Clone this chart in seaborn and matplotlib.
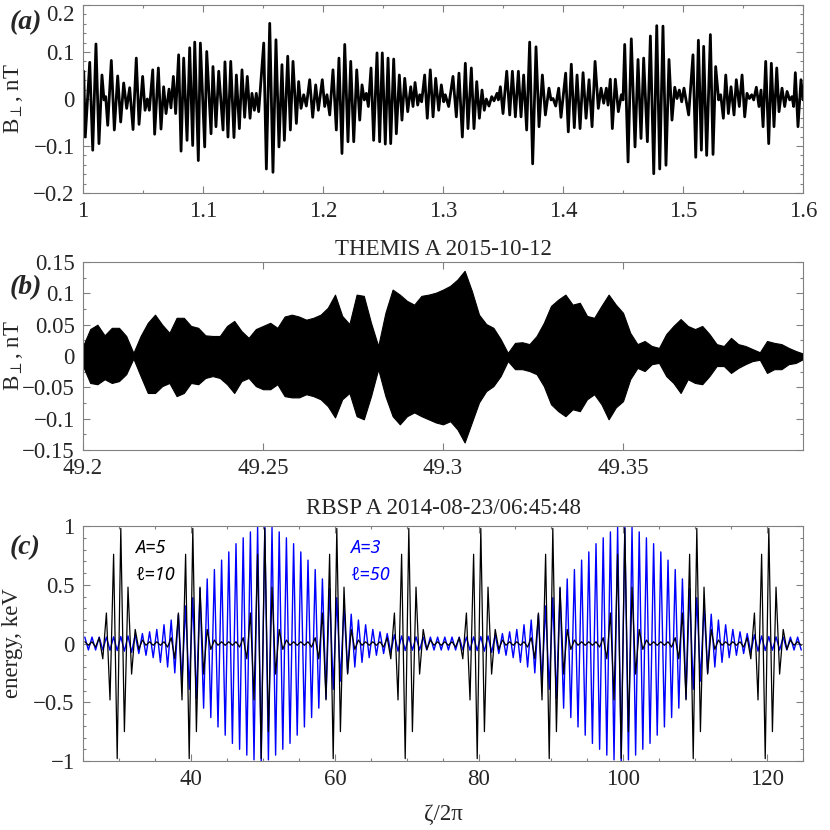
import numpy as np
import matplotlib
matplotlib.use('Agg')
import matplotlib.pyplot as plt
import seaborn as sns
from matplotlib.ticker import MultipleLocator

# ------------------------------ DATA -----------------------------------

# panel (a): local maxima / minima of the THEMIS trace (time, nT)
a_time = [
    1.0006, 1.0019, 1.0056, 1.0081, 1.0108, 1.0133, 1.0158, 1.0175, 1.0189, 1.0206,
    1.0236, 1.0261, 1.0289, 1.0314, 1.0339, 1.0364, 1.0389, 1.0417, 1.0444, 1.0467,
    1.0497, 1.0517, 1.0536, 1.0553, 1.0581, 1.0597, 1.0628, 1.0650, 1.0672, 1.0692,
    1.0717, 1.0733, 1.0753, 1.0772, 1.0797, 1.0817, 1.0839, 1.0867, 1.0889, 1.0914,
    1.0931, 1.0961, 1.0978, 1.1014, 1.1031, 1.1067, 1.1083, 1.1108, 1.1131, 1.1167,
    1.1183, 1.1208, 1.1231, 1.1258, 1.1278, 1.1303, 1.1325, 1.1347, 1.1369, 1.1392,
    1.1408, 1.1428, 1.1444, 1.1464, 1.1506, 1.1528, 1.1556, 1.1583, 1.1608, 1.1633,
    1.1658, 1.1678, 1.1706, 1.1728, 1.1750, 1.1778, 1.1797,
    1.1817, 1.1839, 1.1861, 1.1889, 1.1914, 1.1939, 1.1961, 1.1994, 1.2014, 1.2033,
    1.2056, 1.2083, 1.2111, 1.2133, 1.2158, 1.2181, 1.2208, 1.2231, 1.2256, 1.2281,
    1.2306, 1.2325, 1.2344, 1.2361, 1.2378, 1.2400, 1.2422, 1.2450, 1.2472, 1.2494,
    1.2519, 1.2542, 1.2564, 1.2589, 1.2611, 1.2636, 1.2658, 1.2681, 1.2706, 1.2731,
    1.2750, 1.2767, 1.2789, 1.2806, 1.2822, 1.2847, 1.2869, 1.2894, 1.2917, 1.2939,
    1.2964, 1.2986, 1.3006, 1.3019, 1.3047, 1.3083, 1.3111, 1.3133, 1.3161, 1.3186,
    1.3208, 1.3236, 1.3258, 1.3281, 1.3303, 1.3325, 1.3344, 1.3361, 1.3383, 1.3406,
    1.3425, 1.3450, 1.3461, 1.3478, 1.3500, 1.3531, 1.3556, 1.3578, 1.3603, 1.3628,
    1.3650, 1.3672, 1.3697, 1.3722, 1.3747, 1.3775, 1.3800, 1.3828, 1.3853, 1.3883,
    1.3900, 1.3917, 1.3939, 1.3964,
    1.3983, 1.4022, 1.4044, 1.4069, 1.4094, 1.4117, 1.4142, 1.4167, 1.4192, 1.4217,
    1.4242, 1.4267, 1.4294, 1.4317, 1.4339, 1.4361, 1.4375, 1.4394, 1.4411, 1.4436,
    1.4461, 1.4486, 1.4500, 1.4514, 1.4542, 1.4569, 1.4600, 1.4625, 1.4650, 1.4672,
    1.4703, 1.4728, 1.4756, 1.4781, 1.4806, 1.4833, 1.4858, 1.4883, 1.4908, 1.4931,
    1.4950, 1.4969, 1.4989, 1.5008, 1.5047, 1.5083, 1.5106, 1.5128, 1.5153, 1.5172,
    1.5197, 1.5228, 1.5250, 1.5272, 1.5297, 1.5314, 1.5336, 1.5356, 1.5378, 1.5400,
    1.5425, 1.5444, 1.5469, 1.5492, 1.5514, 1.5533, 1.5553, 1.5572, 1.5589, 1.5611,
    1.5633, 1.5650, 1.5667, 1.5689, 1.5714, 1.5736, 1.5758, 1.5781, 1.5800, 1.5825,
    1.5847, 1.5867, 1.5889, 1.5908, 1.5922, 1.5936, 1.5958, 1.5983, 1.6000,
]
a_field = [
    0.059, -0.081, 0.078, -0.109, 0.117, -0.095, 0.051, -0.002, 0.005, -0.056,
    0.082, -0.066, 0.049, -0.049, 0.034, -0.020, 0.024, -0.065, 0.087, -0.054,
    0.048, -0.024, 0.0, -0.024, 0.062, -0.075, 0.066, -0.064, 0.026, -0.031,
    0.021, -0.019, 0.048, -0.031, 0.094, -0.111, 0.087, -0.088, 0.109, -0.099,
    0.121, -0.131, 0.119, -0.102, 0.101, -0.074, 0.069, -0.059, 0.059, -0.066,
    0.079, -0.081, 0.080, -0.082, 0.051, -0.063, 0.062, -0.039, 0.048, -0.041,
    0.012, -0.024, 0.012, -0.027, 0.119, -0.149, 0.161, -0.156, 0.126, -0.102,
    0.073, -0.088, 0.091, -0.066, 0.080, -0.052, 0.037,
    -0.020, 0.009, -0.015, 0.041, -0.039, 0.030, -0.024, 0.041, -0.016, 0.009,
    -0.034, 0.062, -0.066, 0.087, -0.116, 0.116, -0.091, 0.080, -0.091, 0.062,
    -0.045, 0.030, -0.002, 0.012, -0.016, 0.066, -0.088, 0.098, -0.091, 0.098,
    -0.096, 0.087, -0.095, 0.085, -0.074, 0.051, -0.045, 0.044, -0.027, 0.026,
    -0.016, 0.035, -0.013, 0.009, -0.006, 0.051, -0.041, 0.062, -0.038, 0.044,
    -0.024, 0.030, -0.006, 0.009, -0.016, 0.048, -0.038, 0.055, -0.081, 0.076,
    -0.063, 0.066, -0.063, 0.037, -0.041, 0.019, -0.024, 0.0, -0.015, 0.005,
    -0.004, 0.012, -0.002, 0.026, -0.031, 0.059, -0.034, 0.059, -0.038, 0.059,
    -0.038, 0.051, -0.066, 0.121, -0.138, 0.111, -0.059, 0.051, -0.034, 0.023,
    -0.002, 0.001, -0.015, 0.023,
    -0.039, 0.055, -0.070, 0.074, -0.061, 0.051, -0.063, 0.056, -0.041, 0.041,
    -0.059, 0.080, -0.020, 0.023, -0.009, 0.023, -0.013, 0.042, -0.063, 0.042,
    -0.027, 0.009, -0.002, 0.116, -0.134, 0.128, -0.102, 0.084, -0.084, 0.087,
    -0.091, 0.134, -0.159, 0.156, -0.149, 0.155, -0.141, 0.084, -0.045, 0.025,
    0.001, 0.019, -0.006, 0.023, -0.034, 0.094, -0.124, 0.125, -0.109, 0.112,
    -0.120, 0.137, -0.118, 0.069, -0.002, 0.009, -0.041, 0.051, -0.031, 0.026,
    -0.034, 0.041, -0.016, 0.051, -0.038, 0.012, 0.001, 0.009, -0.002, 0.025,
    -0.016, 0.019, -0.059, 0.080, -0.095, 0.076, -0.059, 0.066, -0.027, 0.023,
    -0.016, 0.016, -0.002, 0.005, -0.016, 0.056, -0.059, 0.041, -0.002,
]

# panel (b): upper / lower envelope of the RBSP trace, every 0.002 from 49.2 to 49.4
b_upper = [
    0.016, 0.043, 0.050, 0.033, 0.045, 0.045, 0.032, 0.005, 0.032, 0.053,
    0.066, 0.050, 0.037, 0.061, 0.061, 0.048, 0.045, 0.033, 0.032, 0.032,
    0.048, 0.056, 0.040, 0.029, 0.043, 0.048, 0.053, 0.045, 0.063, 0.066,
    0.063, 0.058, 0.061, 0.066, 0.077, 0.098, 0.064, 0.051, 0.098, 0.096,
    0.053, 0.016, 0.069, 0.106, 0.098, 0.088, 0.082, 0.096, 0.098, 0.101,
    0.106, 0.112, 0.122, 0.136, 0.104, 0.066, 0.051, 0.045, 0.027, 0.005,
    0.021, 0.022, 0.019, 0.032, 0.053, 0.080, 0.090, 0.098, 0.082, 0.085,
    0.064, 0.061, 0.080, 0.098, 0.082, 0.069, 0.037, 0.019, 0.024, 0.016,
    0.013, 0.035, 0.048, 0.059, 0.048, 0.043, 0.048, 0.035, 0.019, 0.016,
    0.029, 0.019, 0.016, 0.011, 0.006, 0.024, 0.021, 0.019, 0.013, 0.008,
    0.004,
]
b_lower = [
    -0.016, -0.043, -0.045, -0.037, -0.043, -0.040, -0.029, -0.004, -0.032, -0.059,
    -0.059, -0.048, -0.043, -0.064, -0.059, -0.043, -0.045, -0.035, -0.032, -0.035,
    -0.045, -0.059, -0.040, -0.035, -0.048, -0.053, -0.053, -0.045, -0.064, -0.066,
    -0.066, -0.061, -0.064, -0.069, -0.080, -0.098, -0.069, -0.059, -0.096, -0.101,
    -0.064, -0.021, -0.064, -0.096, -0.109, -0.096, -0.090, -0.096, -0.101, -0.106,
    -0.109, -0.104, -0.117, -0.138, -0.106, -0.074, -0.056, -0.048, -0.032, -0.008,
    -0.021, -0.021, -0.024, -0.029, -0.048, -0.077, -0.088, -0.096, -0.085, -0.088,
    -0.069, -0.061, -0.077, -0.101, -0.082, -0.072, -0.037, -0.019, -0.024, -0.013,
    -0.011, -0.032, -0.043, -0.059, -0.037, -0.043, -0.045, -0.032, -0.016, -0.016,
    -0.027, -0.019, -0.013, -0.008, -0.006, -0.027, -0.021, -0.021, -0.013, -0.011,
    -0.005,
]
b_start, b_end = 49.2, 49.4

# panel (c), black (A=5, l=10): the same burst every 10 in zeta/2pi
burst_centres = [30, 40, 50, 60, 70, 80, 90, 100, 110, 120]
burst_offsets = [-4.75, -4.25, -3.75, -3.25, -2.75, -2.25, -1.75, -1.25, -0.75, -0.25,
                 0.25, 0.75, 1.25, 1.75, 2.25, 2.75, 3.25, 3.75, 4.25, 4.75]
burst_energy = [0.015, -0.015, 0.015, -0.03, 0.05, -0.13, 0.26, -0.48, 0.76, -0.98,
                0.98, -0.75, 0.48, -0.26, 0.12, -0.05, 0.03, -0.015, 0.015, -0.015]

# panel (c), blue (A=3, l=50): peak height against distance from the crest
blue_crests = [50, 100]
blue_amp = [1.0, 0.99, 0.95, 0.9, 0.85, 0.78, 0.71, 0.63, 0.55, 0.47,
            0.39, 0.32, 0.25, 0.2, 0.16, 0.12, 0.1, 0.085, 0.075, 0.065,
            0.06, 0.057, 0.055, 0.055, 0.055, 0.055]

# ticks and labels
a_xticks = [1, 1.1, 1.2, 1.3, 1.4, 1.5, 1.6]
a_xlabels = ['1', '1.1', '1.2', '1.3', '1.4', '1.5', '1.6']
a_yticks = [-0.2, -0.1, 0, 0.1, 0.2]
a_ylabels = ['\u22120.2', '\u22120.1', '0', '0.1', '0.2']
b_xticks = [49.2, 49.25, 49.3, 49.35]
b_xlabels = ['49.2', '49.25', '49.3', '49.35']
b_yticks = [-0.15, -0.1, -0.05, 0, 0.05, 0.1, 0.15]
b_ylabels = ['\u22120.15', '\u22120.1', '\u22120.05', '0', '0.05', '0.1', '0.15']
c_xticks = [40, 60, 80, 100, 120]
c_xlabels = ['40', '60', '80', '100', '120']
c_yticks = [-1, -0.5, 0, 0.5, 1]
c_ylabels = ['\u22121', '\u22120.5', '0', '0.5', '1']

# ------------------------------ PLOT -----------------------------------

sns.set_style('ticks')
plt.rcParams['font.family'] = ['Liberation Serif', 'DejaVu Serif']
plt.rcParams['mathtext.fontset'] = 'stix'

FS = 16.5
GREY = '#808080'


def style_axes(ax, xlim, ylim, xticks, xlabels, yticks, ylabels, xminor, yminor):
    ax.set_xlim(xlim)
    ax.set_ylim(ylim)
    ax.set_xticks(xticks)
    ax.set_xticklabels(xlabels)
    ax.set_yticks(yticks)
    ax.set_yticklabels(ylabels)
    if xminor:
        ax.xaxis.set_minor_locator(MultipleLocator(xminor))
    ax.yaxis.set_minor_locator(MultipleLocator(yminor))
    ax.tick_params(which='both', direction='in', top=True, right=True,
                   color=GREY, width=0.8, labelsize=FS, pad=6)
    ax.tick_params(which='major', length=5)
    ax.tick_params(which='minor', length=2.5)
    for s in ax.spines.values():
        s.set_color(GREY)
        s.set_linewidth(0.8)
    ax.set_xlabel('')
    ax.set_ylabel('')


fig = plt.figure(figsize=(8.3, 8.3), dpi=100)
ax_a = fig.add_axes([0.1, 0.7675, 0.8675, 0.2265])
ax_b = fig.add_axes([0.1, 0.4578, 0.8675, 0.2265])
ax_c = fig.add_axes([0.1, 0.0831, 0.8675, 0.2831])

# (a)
sns.lineplot(x=a_time, y=a_field, ax=ax_a, color='black', lw=2.0,
             estimator=None, sort=False)
style_axes(ax_a, (1, 1.6), (-0.2, 0.2), a_xticks, a_xlabels,
           a_yticks, a_ylabels, 0.05, 0.02)
# top label sits inside the frame, as in the original
ax_a.get_yticklabels()[-1].set_verticalalignment('top')
ax_a.set_ylabel(r'B$_{\perp}$, nT', fontsize=FS)
ax_a.yaxis.set_label_coords(-0.08, 0.5)

# (b)
b_time = np.linspace(b_start, b_end, len(b_upper))
ax_b.fill_between(b_time, b_lower, b_upper, color='black', lw=0.8, edgecolor='black')
style_axes(ax_b, (b_start, b_end), (-0.15, 0.15), b_xticks, b_xlabels,
           b_yticks, b_ylabels, None, 0.025)
ax_b.set_ylabel(r'B$_{\perp}$, nT', fontsize=FS)
ax_b.yaxis.set_label_coords(-0.08, 0.5)
ax_b.set_title('THEMIS A 2015-10-12', fontsize=FS, pad=5)

# (c)
black_x = np.concatenate([np.array(burst_offsets) + c for c in burst_centres])
black_y = np.tile(burst_energy, len(burst_centres))

blue_x = np.arange(25.25, 125, 0.5)
dist = np.min(np.abs(blue_x[:, None] - np.array(blue_crests)[None, :]), axis=1)
idx = np.clip(np.round(dist).astype(int), 0, len(blue_amp) - 1)
sign = np.where((blue_x % 1) < 0.5, 1, -1)
blue_y = sign * np.array(blue_amp)[idx]

sns.lineplot(x=blue_x, y=blue_y, ax=ax_c, color='#0000ff', lw=1.0,
             estimator=None, sort=False)
sns.lineplot(x=black_x, y=black_y, ax=ax_c, color='black', lw=0.9,
             estimator=None, sort=False)
style_axes(ax_c, (25, 125), (-1, 1), c_xticks, c_xlabels,
           c_yticks, c_ylabels, 5, 0.1)
ax_c.set_ylabel('energy, keV', fontsize=FS)
ax_c.yaxis.set_label_coords(-0.083, 0.5)
ax_c.set_xlabel('\u03b6/2\u03c0', fontsize=FS)
ax_c.xaxis.set_label_coords(0.5, -0.185)
ax_c.set_title('RBSP A 2014-08-23/06:45:48', fontsize=FS, pad=9)

hand = dict(fontsize=13, fontstyle='italic', family=['Noto Sans', 'DejaVu Sans'])
ax_c.text(32.2, 0.77, 'A=5', color='black', **hand)
ax_c.text(32.2, 0.54, '\u2113=10', color='black', **hand)
ax_c.text(62.1, 0.77, 'A=3', color='#0000ff', **hand)
ax_c.text(62.1, 0.54, '\u2113=50', color='#0000ff', **hand)

# panel letters
for lab, yy in [('(a)', 23), ('(b)', 288), ('(c)', 548)]:
    fig.text(0.012, 1 - yy / 830, lab, fontsize=20, fontweight='bold',
             fontstyle='italic', va='center', ha='left')

fig.savefig('out.png', dpi=100)
